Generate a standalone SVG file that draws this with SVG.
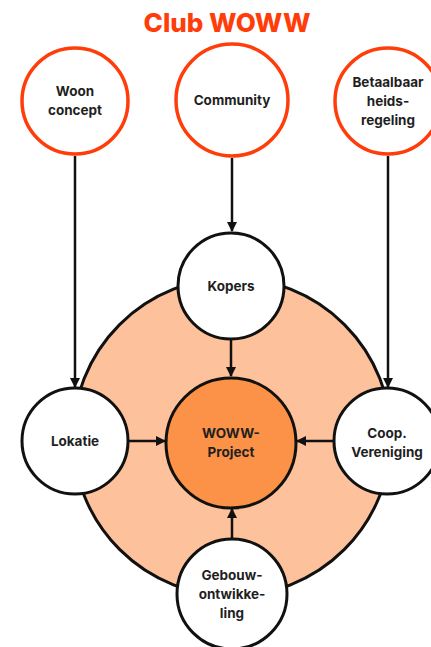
<svg xmlns="http://www.w3.org/2000/svg" width="431" height="647" viewBox="0 0 431 647">
<style>
  .title{font-family:Inter,"Liberation Sans",sans-serif;font-weight:800;font-size:26px;fill:#FF3D0A;text-anchor:middle}
  .lbl{font-family:Inter,"Liberation Sans",sans-serif;font-weight:700;font-size:13.5px;fill:#1f1f1f;text-anchor:middle}
  .top{fill:#fff;stroke:#FF3D0A;stroke-width:3.5}
  .mid{fill:#fff;stroke:#111;stroke-width:3}
  .con{stroke:#111;stroke-width:2.5;fill:none;marker-end:url(#ah)}
</style>
<defs>
  <marker id="ah" viewBox="0 0 10 10" refX="9" refY="5" markerWidth="4" markerHeight="4" orient="auto" markerUnits="strokeWidth">
    <path d="M0,0 L10,5 L0,10 z" fill="#111"/>
  </marker>
</defs>
<rect width="431" height="647" fill="#fff"/>
<text class="title" x="227" y="32">Club WOWW</text>
<g id="ring"><circle cx="232" cy="437" r="159" fill="#FDC19B" stroke="#111" stroke-width="3"/></g>
<g id="connectors">
  <line class="con" x1="75" y1="156" x2="75" y2="387"/>
  <line class="con" x1="232" y1="158" x2="232" y2="231"/>
  <line class="con" x1="388" y1="156" x2="388" y2="387"/>
  <line class="con" x1="231" y1="340" x2="231" y2="376"/>
  <line class="con" x1="129" y1="441" x2="165" y2="441"/>
  <line class="con" x1="333" y1="441" x2="297" y2="441"/>
  <line class="con" x1="232" y1="539" x2="232" y2="509"/>
</g>
<g id="woon"><circle class="top" cx="75" cy="101" r="53"/><text class="lbl" x="75" y="96">Woon</text><text class="lbl" x="75" y="115">concept</text></g>
<g id="community"><circle class="top" cx="232" cy="100" r="56"/><text class="lbl" x="232" y="105">Community</text></g>
<g id="betaalbaar"><circle class="top" cx="388" cy="101" r="53"/><text class="lbl" x="388" y="87">Betaalbaar</text><text class="lbl" x="388" y="106">heids-</text><text class="lbl" x="388" y="125">regeling</text></g>
<g id="kopers"><circle class="mid" cx="231" cy="286" r="53"/><text class="lbl" x="231" y="291">Kopers</text></g>
<g id="project"><circle cx="231" cy="443" r="65" fill="#FB9247" stroke="#111" stroke-width="3"/><text class="lbl" x="231" y="438">WOWW-</text><text class="lbl" x="231" y="457">Project</text></g>
<g id="lokatie"><circle class="mid" cx="75" cy="441" r="53"/><text class="lbl" x="75" y="446">Lokatie</text></g>
<g id="coop"><circle class="mid" cx="387" cy="441" r="53"/><text class="lbl" x="387" y="438">Coop.</text><text class="lbl" x="387" y="457">Vereniging</text></g>
<g id="gebouw"><circle class="mid" cx="232" cy="594" r="55"/><text class="lbl" x="232" y="580">Gebouw-</text><text class="lbl" x="232" y="599">ontwikke-</text><text class="lbl" x="232" y="618">ling</text></g>
</svg>
